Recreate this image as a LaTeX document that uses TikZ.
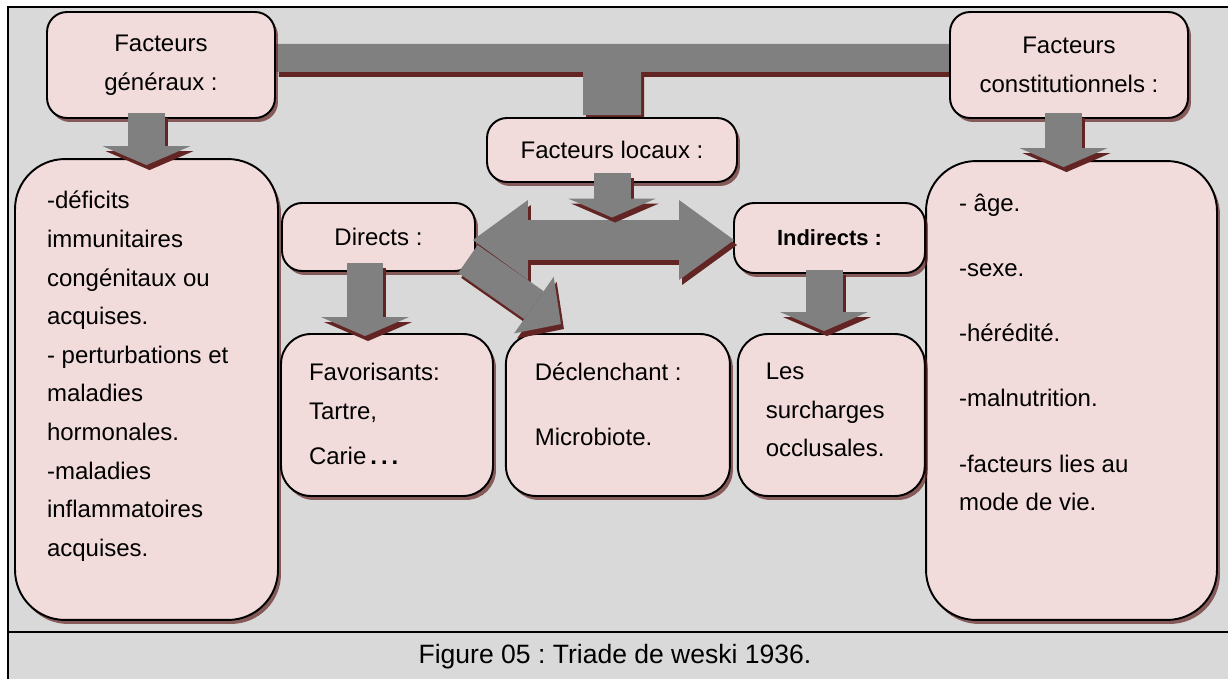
\documentclass[tikz,border=0pt]{standalone}
\usepackage{fontspec}
\setmainfont{Liberation Sans}
\usetikzlibrary{arrows.meta, positioning, calc, shadows, backgrounds}
\definecolor{boxfill}{HTML}{F2DCDB}
\definecolor{panel}{HTML}{D9D9D9}
\definecolor{arrgray}{HTML}{808080}
\definecolor{shadowred}{HTML}{632523}
\frenchspacing

\begin{document}
\begin{tikzpicture}[x=0.02cm, y=-0.02cm,
      font=\fontsize{13.66pt}{22pt}\selectfont,
      box/.style={draw=black, line width=1.1pt, fill=boxfill, rounded corners=0.4cm,
                  align=center, inner sep=0pt,
                  drop shadow={shadow xshift=0.06cm, shadow yshift=-0.08cm, fill=shadowred, opacity=0.7}},
      listbox/.style={box, rounded corners=1cm},
      leafbox/.style={box, rounded corners=0.6cm, minimum height=3.24cm},
      tbar/.style={fill=arrgray, preaction={fill=shadowred, transform canvas={shift={(3,5)}}}},
      downarr/.style={draw=arrgray, line width=0.74cm,
                  -{Triangle[length=0.38cm, width=1.76cm, line width=0pt]},
                  preaction={draw=shadowred, line width=0.74cm,
                  -{Triangle[length=0.38cm, width=1.76cm, line width=0pt]},
                  transform canvas={shift={(3,5)}}}},
      dblarr/.style={draw=arrgray, line width=0.82cm,
                  {Triangle[length=1.1cm, width=1.6cm, line width=0pt]}-{Triangle[length=1.1cm, width=1.6cm, line width=0pt]},
                  preaction={draw=shadowred, line width=0.82cm,
                  {Triangle[length=1.1cm, width=1.6cm, line width=0pt]}-{Triangle[length=1.1cm, width=1.6cm, line width=0pt]},
                  transform canvas={shift={(3,5)}}}},
      diagarr/.style={draw=arrgray, line width=0.68cm,
                  -{Triangle[length=0.66cm, width=1.38cm, line width=0pt]},
                  preaction={draw=shadowred, line width=0.68cm,
                  -{Triangle[length=0.66cm, width=1.38cm, line width=0pt]},
                  transform canvas={shift={(3,5)}}}}]
    \useasboundingbox (0,0) rectangle (1228,679);

    % top row
    \node[box, minimum width=4.56cm, minimum height=2.12cm] (gen) at (161,65) {Facteurs\\généraux :};
    \node[box, minimum width=4.76cm, minimum height=2.12cm] (const) at (1069,65) {Facteurs\\constitutionnels :};
    \node[box, minimum width=5cm, minimum height=1.28cm] (loc) at (612,150) {Facteurs locaux :};

    % lists
    \node[listbox, minimum width=5.26cm, minimum height=9.22cm] (genlist) at (146.5,389.5)
      {\parbox[c][7.94cm][t]{3.98cm}{\raggedright -déficits\\immunitaires\\congénitaux ou\\acquises.\\- perturbations et\\maladies\\hormonales.\\-maladies\\inflammatoires\\acquises.}};
    \node[listbox, minimum width=5.82cm, minimum height=9.18cm] (constlist) at (1071.5,390.5)
      {\parbox[c][7.86cm][t]{4.5cm}{\raggedright - âge.\\[0.53cm]-sexe.\\[0.53cm]-hérédité.\\[0.53cm]-malnutrition.\\[0.53cm]-facteurs lies au\\mode de vie.}};

    % local factors
    \node[box, minimum width=3.86cm, minimum height=1.36cm] (dir) at (378.5,237) {Directs :};
    \node[box, minimum width=3.82cm, minimum height=1.4cm, font=\fontsize{12.5pt}{15pt}\selectfont\bfseries] (ind) at (829.5,238) {Indirects :};
    \node[leafbox, minimum width=4.24cm] (fav) at (387,415)
      {\parbox[c][2.08cm][t]{3.12cm}{\raggedright Favorisants:\\Tartre,\\[0.14cm]Carie{\bfseries\,.\,.\,.}}};
    \node[leafbox, minimum width=4.48cm, right=0.22cm of fav] (decl)
      {\parbox[c][2.08cm][t]{3.32cm}{\raggedright Déclenchant :\\[0.53cm]Microbiote.}};
    \node[leafbox, minimum width=3.74cm, right=0.12cm of decl] (surch)
      {\parbox[c][2.08cm][t]{2.62cm}{\raggedright Les\\surcharges\\occlusales.}};

    \node[font=\fontsize{15.1pt}{18pt}\selectfont, anchor=base] (caption) at (615,663) {Figure 05 : Triade de weski 1936.};

    \begin{scope}[on background layer]
      \fill[panel] (8,7) rectangle (1228,679);
      \draw[line width=0.04cm] (8,679) -- (8,7) -- (1228,7);
      \draw[line width=0.04cm] (8,632) -- (1228,632);
      \fill[tbar] (gen.east |- 0,44) -- (const.west |- 0,44) -- (const.west |- 0,72)
        -- ($(loc.north |- 0,72)+(29,0)$) -- ($(loc.north)+(29,-2)$)
        -- ($(loc.north)+(-29,-2)$) -- ($(loc.north |- 0,72)+(-29,0)$)
        -- (gen.east |- 0,72) -- cycle;
    \end{scope}

    \coordinate (mid) at ($(dir.east)!0.5!(ind.west)$);
    \draw[dblarr] ($(dir.east)+(-3,3)$) -- ($(ind.west)+(1,2)$);
    \draw[diagarr] ($(dir.south east)+(-8,-13)$) -- ($(decl.north west)+(56,-9)$);
    \draw[downarr] ($(genlist.north |- gen.south)+(0,-6)$) -- ($(genlist.north)+(0,7)$);
    \draw[downarr] ($(constlist.north |- const.south)+(-8,-6)$) -- ($(constlist.north)+(-8,7)$);
    \draw[downarr] ($(loc.south)+(0,-10)$) -- ($(loc.south |- mid)+(0,-20)$);
    \draw[downarr] ($(dir.south)+(-13.5,-9)$) -- ($(dir.south |- fav.north)+(-13.5,3)$);
    \draw[downarr] ($(ind.south)+(-5.5,-4)$) -- ($(ind.south |- surch.north)+(-5.5,-2)$);
  \end{tikzpicture}
\end{document}
